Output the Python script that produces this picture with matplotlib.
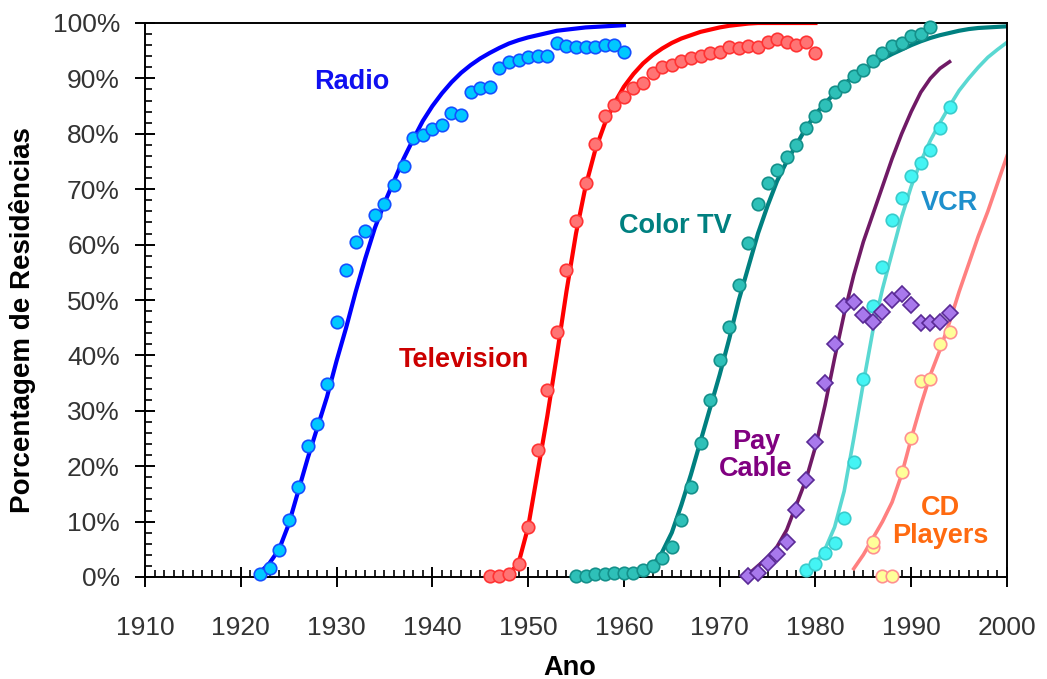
import matplotlib
matplotlib.use('Agg')
import matplotlib.pyplot as plt
from matplotlib.ticker import MultipleLocator, FuncFormatter

plt.rcParams['font.family'] = ['Liberation Sans', 'DejaVu Sans']

# Radio
radio_years = list(range(1922, 1961))
radio_pts = [0.5, 1.7, 4.9, 10.2, 16.3, 23.7, 27.7, 34.8, 46.0, 55.4,
             60.5, 62.5, 65.3, 67.4, 70.8, 74.2, 79.3, 79.7, 80.9, 81.6,
             83.7, 83.4, 87.6, 88.2, 88.5, 91.8, 93.0, 93.3, 93.8, 94.0,
             94.0, 96.4, 95.8, 95.7, 95.7, 95.7, 96.0, 96.0, 94.8]
radio_fit = [0.8, 2.5, 5.0, 9.5, 15.5, 21.5, 27.0, 32.5, 39.0, 45.0,
             51.5, 57.5, 63.0, 67.5, 71.5, 75.5, 79.0, 82.3, 85.0, 87.3,
             89.3, 91.0, 92.4, 93.6, 94.6, 95.5, 96.3, 96.9, 97.4, 97.8,
             98.2, 98.6, 98.8, 99.0, 99.2, 99.3, 99.4, 99.5, 99.6]

# Television
tv_years = list(range(1946, 1981))
tv_pts = [0.2, 0.2, 0.5, 2.3, 9.1, 23.0, 33.8, 44.2, 55.4, 64.3,
          71.2, 78.2, 83.2, 85.2, 86.6, 88.2, 89.2, 90.9, 92.1, 92.5,
          93.1, 93.6, 94.1, 94.5, 94.8, 95.7, 95.4, 95.8, 95.6, 96.6,
          97.1, 96.5, 96.0, 96.6, 94.5]
tv_fit_years = list(range(1948, 1981))
tv_fit = [0.5, 2.5, 9.0, 19.0, 29.0, 40.0, 51.5, 62.0, 70.5, 77.0,
          81.8, 85.5, 88.5, 90.8, 92.7, 94.2, 95.4, 96.4, 97.2, 97.8,
          98.4, 98.8, 99.2, 99.5, 99.7, 99.9, 100, 100, 100, 100,
          100, 100, 100]

# Color TV
ctv_years = list(range(1955, 1993))
ctv_pts = [0.2, 0.2, 0.5, 0.5, 0.8, 0.8, 0.8, 1.3, 2.0, 3.4,
           5.5, 10.3, 16.3, 24.1, 31.9, 39.2, 45.2, 52.7, 60.3, 67.4,
           71.1, 73.5, 75.9, 78.0, 81.0, 83.2, 85.2, 87.6, 88.6, 90.4,
           91.5, 93.1, 94.5, 95.8, 96.3, 97.7, 98.1, 99.3]
ctv_fit_years = list(range(1963, 2001))
ctv_fit = [2.0, 4.5, 8.0, 13.0, 18.5, 24.5, 30.5, 36.5, 43.0, 50.0,
           56.0, 62.0, 67.0, 71.5, 75.0, 78.0, 81.0, 83.5, 85.5, 87.3,
           89.0, 90.3, 91.5, 92.5, 93.5, 94.4, 95.2, 96.0, 96.7, 97.3,
           97.8, 98.2, 98.6, 98.9, 99.1, 99.2, 99.3, 99.4]

# Pay Cable
pay_years = list(range(1973, 1995))
pay_pts = [0.2, 0.8, 2.5, 4.2, 6.4, 12.1, 17.5, 24.4, 35.1, 42.0,
           49.0, 49.7, 47.3, 46.1, 47.8, 50.0, 51.1, 49.1, 45.9, 45.9,
           46.1, 47.6]
pay_fit = [0.5, 2.0, 3.5, 5.5, 8.5, 13.0, 17.5, 23.5, 31.0, 39.5,
           47.5, 54.5, 60.5, 65.5, 70.5, 75.5, 80.0, 84.0, 87.5, 90.0,
           91.8, 93.0]

# VCR
vcr_years = list(range(1979, 1995))
vcr_pts = [1.3, 2.3, 4.3, 6.2, 10.7, 20.8, 35.8, 48.9, 56.0, 64.4,
           68.4, 72.3, 74.8, 77.1, 81.0, 84.8]
vcr_fit_years = list(range(1979, 2001))
vcr_fit = [0.5, 2.5, 5.0, 9.0, 15.5, 25.0, 35.0, 44.5, 52.0, 58.5,
           65.0, 70.5, 75.0, 78.8, 82.0, 85.0, 87.8, 90.0, 92.0, 93.8,
           95.2, 96.5]

# CD Players
cd_years = [1986, 1986, 1987, 1988, 1989, 1990, 1991, 1992, 1993, 1994]
cd_pts = [5.4, 6.4, 0.2, 0.2, 19.0, 25.1, 35.3, 35.8, 42.0, 44.2]
cd_fit_years = list(range(1984, 2001))
cd_fit = [1.5, 4.0, 7.0, 10.0, 13.5, 18.5, 25.0, 31.0, 36.5, 41.0,
          46.0, 51.5, 56.5, 61.5, 66.0, 71.0, 76.0]

fig = plt.figure(figsize=(10.47, 6.79), dpi=100)
ax = fig.add_axes([145 / 1047, 1 - 577 / 679, 862 / 1047, 554 / 679])

# fitted curves
ax.plot(radio_years, radio_fit, color='#0000FF', lw=3, zorder=2)
ax.plot(tv_fit_years, tv_fit, color='#FF0000', lw=3, zorder=2)
ax.plot(ctv_fit_years, ctv_fit, color='#008080', lw=3, zorder=2)
ax.plot(pay_years, pay_fit, color='#701A66', lw=2.6, zorder=2)
ax.plot(vcr_fit_years, vcr_fit, color='#5AD8D2', lw=2.6, zorder=2)
ax.plot(cd_fit_years, cd_fit, color='#FF8080', lw=2.6, zorder=2)

# data points
ms = 9
ax.plot(radio_years, radio_pts, 'o', ms=ms, mfc='#00C8FF', mec='#1450FF', mew=1.2, zorder=3, clip_on=False)
ax.plot(tv_years, tv_pts, 'o', ms=ms, mfc='#FF7474', mec='#FF3333', mew=1.2, zorder=3, clip_on=False)
ax.plot(ctv_years, ctv_pts, 'o', ms=ms, mfc='#2EC0B8', mec='#14908A', mew=1.2, zorder=3, clip_on=False)
ax.plot(cd_years, cd_pts, 'o', ms=ms, mfc='#FFFF99', mec='#FF9090', mew=1.2, zorder=3, clip_on=False)
ax.plot(vcr_years, vcr_pts, 'o', ms=ms, mfc='#44F4F4', mec='#38CCCC', mew=1.2, zorder=3, clip_on=False)
ax.plot(pay_years, pay_pts, 'D', ms=8, mfc='#A878EC', mec='#5A2A96', mew=1.2, zorder=4, clip_on=False)

# series labels
lab = dict(fontsize=19.5, fontweight='bold', ha='center', va='center')
ax.text(1931.6, 89.4, 'Radio', color='#1010F0', **lab)
ax.text(1943.3, 39.2, 'Television', color='#CC0000', **lab)
ax.text(1965.4, 63.4, 'Color TV', color='#008080', **lab)
ax.text(1973.8, 22.0, 'Pay\nCable', color='#800080', linespacing=1.05, **lab)
ax.text(1994.0, 67.5, 'VCR', color='#1E8FCC', **lab)
ax.text(1993.0, 10.0, 'CD\nPlayers', color='#FF6A10', linespacing=1.1, **lab)

ax.set_xlim(1910, 2000)
ax.set_ylim(0, 100)
ax.xaxis.set_major_locator(MultipleLocator(10))
ax.xaxis.set_minor_locator(MultipleLocator(1))
ax.yaxis.set_major_locator(MultipleLocator(10))
ax.yaxis.set_minor_locator(MultipleLocator(2))
ax.yaxis.set_major_formatter(FuncFormatter(lambda v, p: '%d%%' % v))

ax.tick_params(which='major', direction='inout', length=14, width=1.4,
               labelsize=19, labelcolor='#333333', color='black')
ax.tick_params(which='minor', direction='in', length=5, width=1.2, color='black')
ax.tick_params(axis='x', which='major', pad=21)
ax.tick_params(axis='y', which='major', pad=11)

for s in ax.spines.values():
    s.set_linewidth(1.4)
    s.set_color('black')

fig.text(570 / 1047, 1 - 668 / 679, 'Ano', fontsize=19.5, fontweight='bold',
         ha='center', va='center')
fig.text(23 / 1047, 1 - 320 / 679, 'Porcentagem de Residências', fontsize=20,
         fontweight='bold', rotation=90, ha='center', va='center')

plt.savefig('out.png', dpi=100)
plt.close()
